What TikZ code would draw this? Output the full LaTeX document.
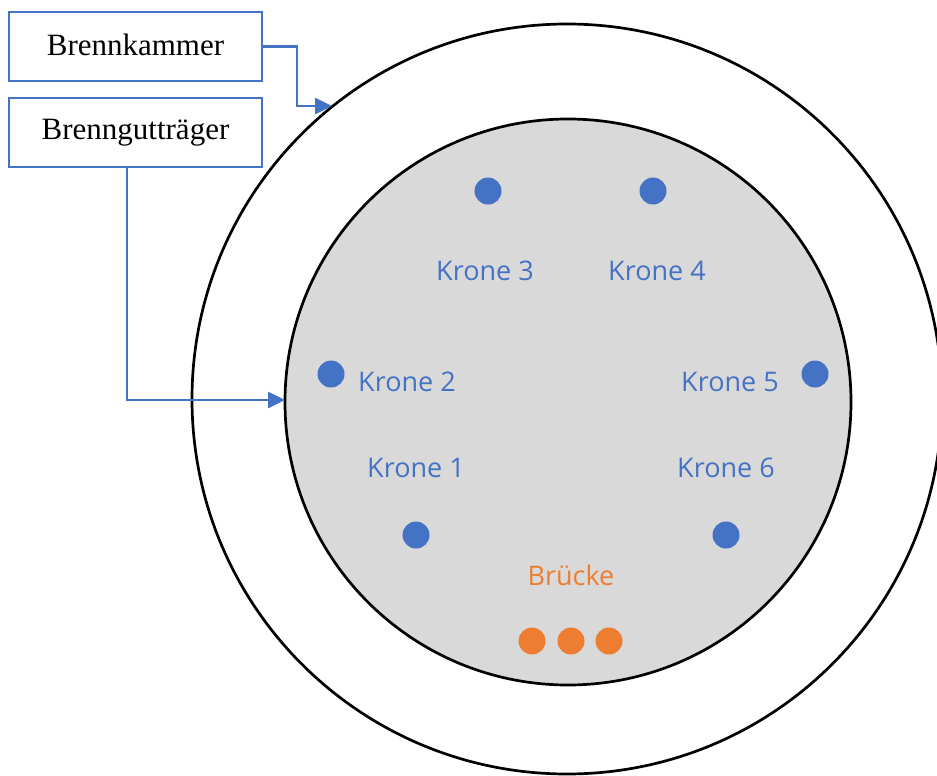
\documentclass[tikz,border=0pt]{standalone}
\usepackage{fontspec}
\setmainfont{Liberation Serif}
\newfontfamily\labelfont{Open Sans}
\usetikzlibrary{arrows.meta}
\definecolor{kblue}{HTML}{4472C4}
\definecolor{korange}{HTML}{ED7D31}
\definecolor{kgrey}{HTML}{D9D9D9}
\tikzset{
  ring/.style={draw=black, line width=2.7pt},
  tagbox/.style={draw=kblue, line width=2.6pt, fill=white, minimum width=253pt, minimum height=69pt, inner sep=0pt, font=\fontsize{31}{36}\selectfont},
  leader/.style={draw=kblue, line width=2.6pt, -{Triangle[length=17pt,width=16pt]}},
  crown/.style={circle, fill=kblue, minimum size=27pt, inner sep=0pt},
  bridge/.style={circle, fill=korange, minimum size=27pt, inner sep=0pt},
  crownlabel/.style={text=kblue, font=\labelfont\fontsize{27}{32}\selectfont, inner sep=0pt},
  bridgelabel/.style={text=korange, font=\labelfont\fontsize{27}{32}\selectfont, inner sep=0pt}
}
\begin{document}
\begin{tikzpicture}[x=1pt, y=-1pt]
\useasboundingbox (0,0) rectangle (937,776);
\begin{scope}
\clip (0,0) rectangle (937,776);
% kiln chamber and setter plate
\draw[ring] (567,399) circle[radius=375];
\draw[ring, fill=kgrey] (568,402) circle[radius=283];
\end{scope}
\coordinate (chamber) at (332,106);
\coordinate (plate) at (285,400);
% crowns
\node[crown] (k3) at (488,191) {};
\node[crown] (k4) at (653,191) {};
\node[crown] (k2) at (331,374) {};
\node[crown] (k5) at (815,374) {};
\node[crown] (k1) at (416,535) {};
\node[crown] (k6) at (726,535) {};
\node[crownlabel] (l3) at (485,271) {Krone 3};
\node[crownlabel] (l4) at (657,271) {Krone 4};
\node[crownlabel] (l2) at (407,382) {Krone 2};
\node[crownlabel] (l5) at (730,382) {Krone 5};
\node[crownlabel] (l1) at (416,468) {Krone 1};
\node[crownlabel] (l6) at (726,468) {Krone 6};
% bridge
\node[bridgelabel] (lb) at (571,575) {Brücke};
\node[bridge] (b1) at (532,641) {};
\node[bridge] (b2) at (571,641) {};
\node[bridge] (b3) at (609,641) {};
% callouts
\node[tagbox] (bk) at (135.5,46.5) {\raisebox{4pt}{Brennkammer}};
\node[tagbox] (bt) at (135.5,132.5) {Brenngutträger};
\draw[leader] (bk.east) -| (297,106) -- (chamber);
\draw[leader] (bt.south -| 127,0) |- (plate);
\end{tikzpicture}
\end{document}
